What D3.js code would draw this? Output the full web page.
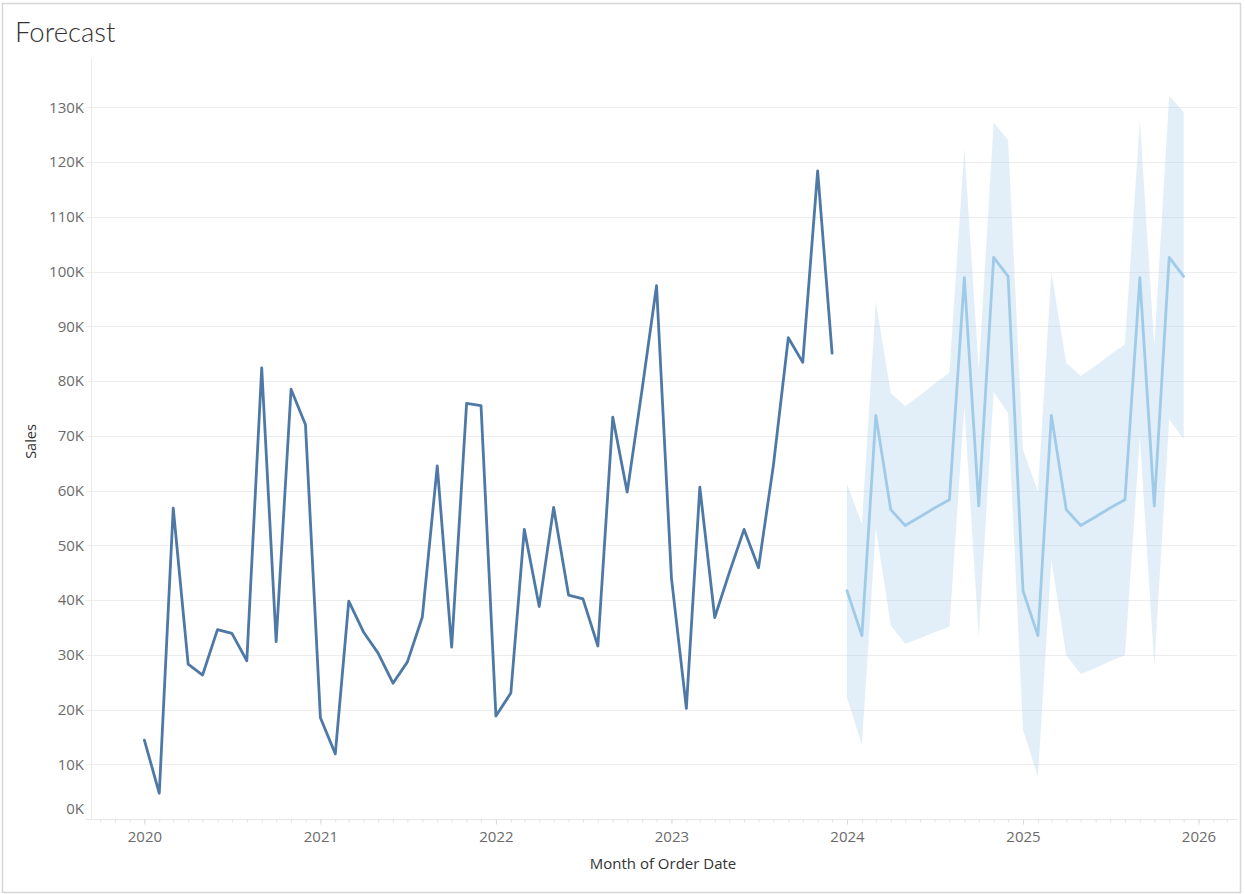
<!DOCTYPE html>
<html>
<head>
<meta charset="utf-8">
<script src="https://cdn.jsdelivr.net/npm/d3@7"></script>
<style>
  html, body { margin: 0; padding: 0; background: #fff; }
  svg { display: block; }
</style>
</head>
<body>
<svg id="chart" width="1245" height="894"></svg>
<script>
// ---------- DATA (values in thousands of sales) ----------
const actualStart = "2020-01";
const actualSales = [
  14.4, 4.7, 56.8, 28.3, 26.3, 34.6, 33.9, 28.9, 82.4, 32.4, 78.5, 72.0,
  18.5, 11.9, 39.8, 34.1, 30.3, 24.8, 28.7, 36.9, 64.5, 31.4, 75.9, 75.5,
  18.8, 23.0, 52.9, 38.8, 56.9, 40.9, 40.2, 31.6, 73.4, 59.7, 78.5, 97.4,
  44.0, 20.2, 60.6, 36.8, 44.9, 52.9, 45.9, 64.6, 87.9, 83.4, 118.4, 85.1
];
const forecastStart = "2024-01";
const forecastSales = [
  41.7, 33.5, 73.7, 56.5, 53.6, 55.2, 56.8, 58.3, 98.9, 57.2, 102.6, 99.1,
  41.7, 33.5, 73.7, 56.5, 53.6, 55.2, 56.8, 58.3, 98.9, 57.2, 102.6, 99.1
];
const forecastLower = [
  22.2, 13.5, 53.1, 35.4, 32.0, 33.0, 34.1, 35.1, 75.3, 33.3, 78.0, 74.1,
  16.3, 7.7, 47.3, 29.9, 26.5, 27.6, 28.8, 29.9, 69.8, 28.1, 73.0, 69.4
];
const forecastUpper = [
  61.2, 53.9, 94.5, 77.8, 75.4, 77.4, 79.5, 81.5, 122.5, 82.0, 127.2, 124.0,
  67.4, 59.8, 99.8, 83.3, 80.9, 82.8, 84.8, 86.7, 127.6, 86.3, 132.1, 129.1
];
const yTicks = [0, 10, 20, 30, 40, 50, 60, 70, 80, 90, 100, 110, 120, 130];
const xTickYears = [2020, 2021, 2022, 2023, 2024, 2025, 2026];
const titleText = "Forecast";
const xTitle = "Month of Order Date";
const yTitle = "Sales";

// ---------- LAYOUT ----------
const plot = { left: 91, right: 1237, top: 58, bottom: 819 };

const svg = d3.select("#chart");
const parseM = d3.timeParse("%Y-%m");
const monthsFrom = (start, n) => d3.range(n).map(i => d3.timeMonth.offset(parseM(start), i));

const actual = monthsFrom(actualStart, actualSales.length).map((d, i) => ({ date: d, v: actualSales[i] }));
const fc = monthsFrom(forecastStart, forecastSales.length).map((d, i) => ({
  date: d, v: forecastSales[i], lo: forecastLower[i], hi: forecastUpper[i]
}));

const x = d3.scaleTime()
  .domain([new Date(2019, 8, 12), new Date(2026, 2, 22)])
  .range([plot.left, plot.right]);
const y = d3.scaleLinear().domain([0, 139]).range([plot.bottom, plot.top]);

// outer frame
svg.append("rect")
  .attr("x", 2.5).attr("y", 3.5).attr("width", 1238).attr("height", 889)
  .attr("fill", "none").attr("stroke", "#d6d6d6").attr("stroke-width", 1.5);

// title
svg.append("text")
  .attr("x", 15).attr("y", 42)
  .attr("font-family", "Lato, 'Open Sans', sans-serif")
  .attr("font-weight", 300)
  .attr("font-size", 27.5)
  .attr("fill", "#333")
  .text(titleText);

// gridlines (with short tick extension to the left)
const grid = svg.append("g");
grid.selectAll("line.h")
  .data(yTicks.filter(t => t > 0))
  .join("line")
  .attr("x1", plot.left - 5).attr("x2", plot.right)
  .attr("y1", d => Math.round(y(d)) + 0.5).attr("y2", d => Math.round(y(d)) + 0.5)
  .attr("stroke", "#ededed").attr("stroke-width", 1);

// y axis line
svg.append("line")
  .attr("x1", plot.left + 0.5).attr("x2", plot.left + 0.5)
  .attr("y1", plot.top).attr("y2", plot.bottom)
  .attr("stroke", "#ebebeb");

// x axis line (0 baseline)
svg.append("line")
  .attr("x1", plot.left - 5).attr("x2", plot.right)
  .attr("y1", Math.round(y(0)) + 0.5).attr("y2", Math.round(y(0)) + 0.5)
  .attr("stroke", "#e6e6e6");

// x axis ticks via d3 axis
const xAxisMinor = d3.axisBottom(x)
  .ticks(d3.timeMonth.every(1))
  .tickSize(3)
  .tickFormat("");
const gMinor = svg.append("g")
  .attr("transform", `translate(0,${Math.round(y(0)) + 0.5})`)
  .call(xAxisMinor);
gMinor.select(".domain").remove();
gMinor.selectAll("line").attr("stroke", "#e3e3e3");

const xAxis = d3.axisBottom(x)
  .tickValues(xTickYears.map(yr => new Date(yr, 0, 1)))
  .tickSize(5)
  .tickPadding(7)
  .tickFormat(d3.timeFormat("%Y"));
const gx = svg.append("g")
  .attr("transform", `translate(0,${Math.round(y(0)) + 0.5})`)
  .call(xAxis);
gx.select(".domain").remove();
gx.selectAll("line").attr("stroke", "#dcdcdc");
gx.selectAll("text")
  .attr("font-family", "'Open Sans', sans-serif")
  .attr("font-size", 15)
  .attr("fill", "#6b6b6b");

// y axis labels via d3 axis
const yAxis = d3.axisLeft(y)
  .tickValues(yTicks)
  .tickSize(0)
  .tickPadding(0)
  .tickFormat(d => d + "K");
const gy = svg.append("g")
  .attr("transform", `translate(${plot.left - 7},0)`)
  .call(yAxis);
gy.select(".domain").remove();
gy.selectAll("text")
  .attr("font-family", "'Open Sans', sans-serif")
  .attr("font-size", 15)
  .attr("fill", "#6b6b6b")
  .attr("dy", d => d === 0 ? "-0.35em" : "0.32em");

// axis titles
svg.append("text")
  .attr("x", 663).attr("y", 869)
  .attr("text-anchor", "middle")
  .attr("font-family", "'Open Sans', sans-serif")
  .attr("font-size", 15)
  .attr("fill", "#333")
  .text(xTitle);

svg.append("text")
  .attr("transform", `translate(36,${(plot.top + plot.bottom) / 2 + 3}) rotate(-90)`)
  .attr("text-anchor", "middle")
  .attr("font-family", "'Open Sans', sans-serif")
  .attr("font-size", 14.5)
  .attr("fill", "#333")
  .text(yTitle);

// forecast band
const area = d3.area()
  .x(d => x(d.date))
  .y0(d => y(d.lo))
  .y1(d => y(d.hi));
svg.append("path")
  .datum(fc)
  .attr("d", area)
  .attr("fill", "#a0cbe8")
  .attr("fill-opacity", 0.3);

// lines
const line = d3.line().x(d => x(d.date)).y(d => y(d.v));
svg.append("path")
  .datum(fc)
  .attr("d", line)
  .attr("fill", "none")
  .attr("stroke", "#a0cbe8")
  .attr("stroke-width", 2.8)
  .attr("stroke-linejoin", "round")
  .attr("stroke-linecap", "round");

svg.append("path")
  .datum(actual)
  .attr("d", line)
  .attr("fill", "none")
  .attr("stroke", "#4e79a7")
  .attr("stroke-width", 2.8)
  .attr("stroke-linejoin", "round")
  .attr("stroke-linecap", "round");
</script>
</body>
</html>
